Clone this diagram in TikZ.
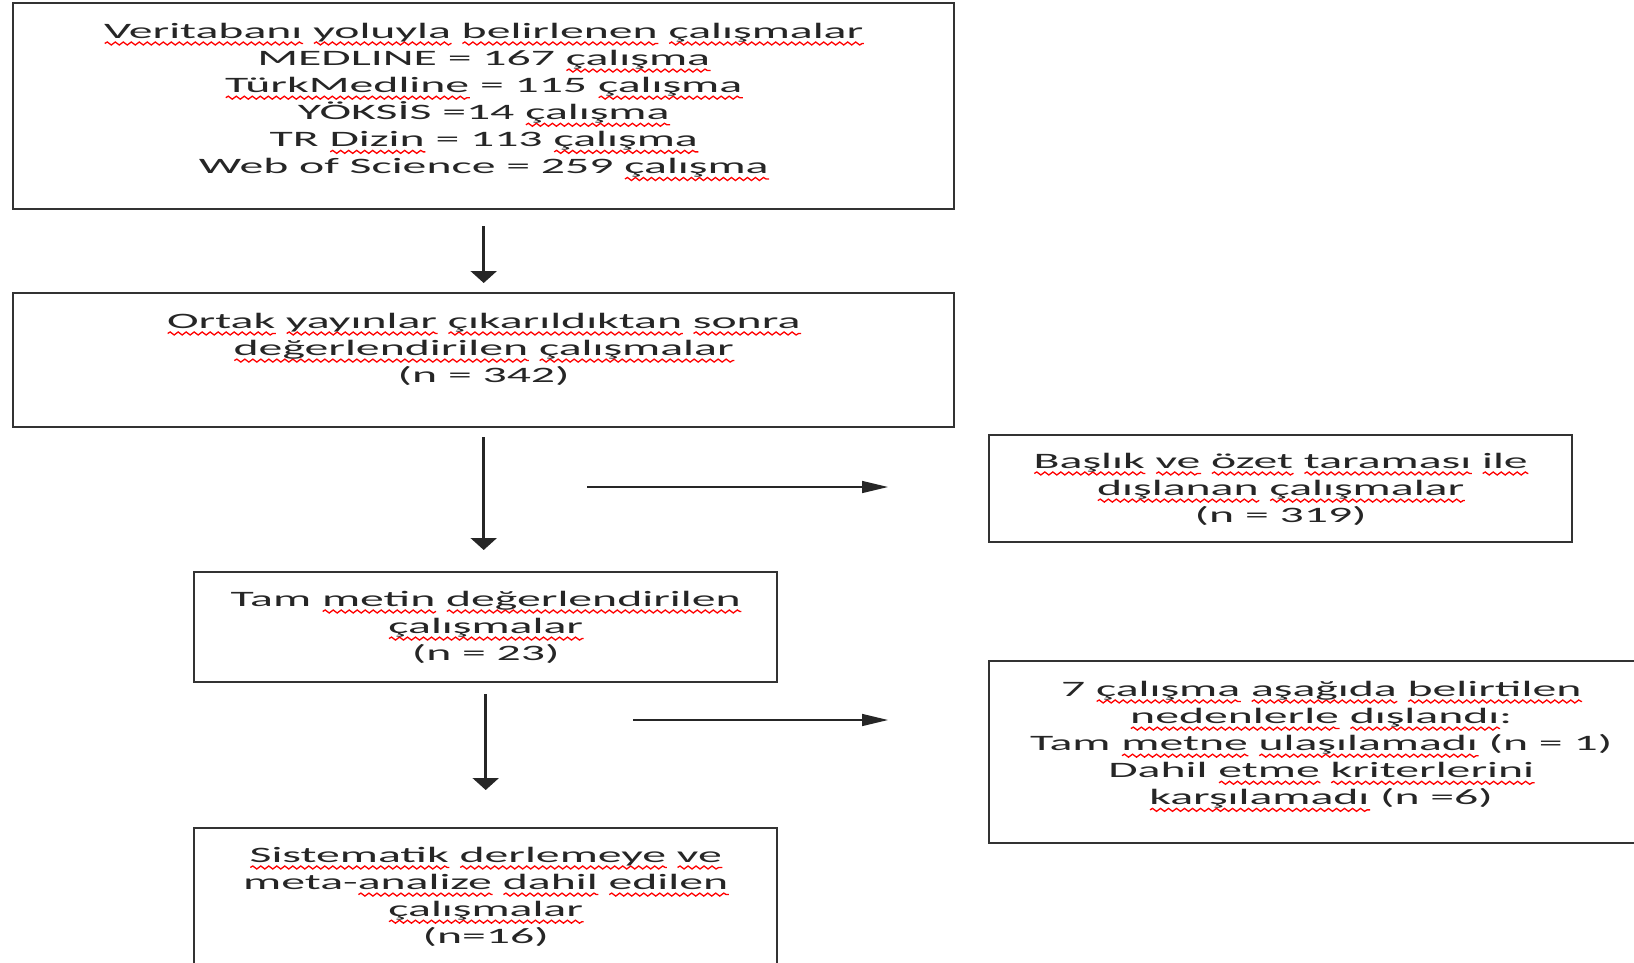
\documentclass[tikz,border=0pt]{standalone}
\usepackage{fontspec}
\setmainfont{Carlito}[FakeStretch=2.17]
\usepackage{xcolor}
\usepackage{tikz}
\usetikzlibrary{arrows.meta, positioning, decorations.pathmorphing}

% red wavy underline of the spell checker
\newlength\sqw
\newcommand\sq[1]{\settowidth\sqw{#1}\rlap{\tikz[baseline=0pt, x=1pt, y=1pt]
  \draw[red, line width=1.3pt, decorate, decoration={snake, amplitude=1.5pt, segment length=8pt}]
  (0pt,-5pt) -- (\sqw,-5pt);}#1}

\begin{document}
\begin{tikzpicture}[
  x=1pt, y=-1pt,
  box/.style={draw=black!80, line width=2.4pt, inner sep=0pt, anchor=north west},
  txt/.style={align=center, inner sep=0pt, text=black!85, font=\fontsize{22}{27.1}\selectfont},
  varr/.style={-{Triangle[length=12pt,width=26pt]}, line width=2.5pt, black!85},
  harr/.style={-{Triangle[length=26pt,width=12pt]}, line width=1.5pt, black!85},
]
  \useasboundingbox (0,0) rectangle (1634,962);
  \clip (0,0) rectangle (1634,962);

  \node[box, minimum width=941pt, minimum height=206pt] (db) at (12,2) {};
  \node[box, minimum width=941pt, minimum height=134pt] (dup) at (12,292) {};
  \node[box, minimum width=583pt, minimum height=107pt] (scr) at (988,434) {};
  \node[box, minimum width=583pt, minimum height=110pt] (full) at (193,571) {};
  \node[box, minimum width=664pt, minimum height=182pt] (excl) at (988,660) {};
  \node[box, minimum width=583pt, minimum height=160pt] (incl) at (193,827) {};

  \node[txt, below=21pt of db.north] {\sq{Veritabanı} \sq{yoluyla} \sq{belirlenen} \sq{çalışmalar}\\
    MEDLINE = 167 \sq{çalışma}\\
    \sq{TürkMedline} = 115 \sq{çalışma}\\
    YÖKSİS =14 \sq{çalışma}\\
    TR \sq{Dizin} = 113 \sq{çalışma}\\
    Web of Science = 259 \sq{çalışma}};
  \node[txt, below=21pt of dup.north] {\sq{Ortak} \sq{yayınlar} \sq{çıkarıldıktan} \sq{sonra}\\
    \sq{değerlendirilen} \sq{çalışmalar}\\
    (n = 342)};
  \node[txt, below=19pt of scr.north] {\sq{Başlık} \sq{ve} \sq{özet} \sq{taraması} \sq{ile}\\
    \sq{dışlanan} \sq{çalışmalar}\\
    (n = 319)};
  \node[txt, below=20pt of full.north] {Tam \sq{metin} \sq{değerlendirilen}\\
    \sq{çalışmalar}\\
    (n = 23)};
  \node[txt, below=21pt of excl.north] {7 \sq{çalışma} \sq{aşağıda} \sq{belirtilen}\\
    \sq{nedenlerle} \sq{dışlandı}:\\
    Tam \sq{metne} \sq{ulaşılamadı} (n = 1)\\
    Dahil \sq{etme} \sq{kriterlerini}\\
    \sq{karşılamadı} (n =6)};
  \node[txt, below=20pt of incl.north] {\sq{Sistematik} \sq{derlemeye} \sq{ve}\\
    meta-\sq{analize} \sq{dahil} \sq{edilen}\\
    \sq{çalışmalar}\\
    (n=16)};

  % arrows
  \draw[varr, shorten <=16pt, shorten >=9pt] (db.south) -- (db.south |- dup.north);
  \draw[varr, shorten <=9pt, shorten >=21pt] (dup.south) -- (dup.south |- full.north);
  \draw[varr, shorten <=11pt, shorten >=37pt] (full.south) -- (full.south |- incl.north);

  \coordinate (h1) at (587,487);
  \coordinate (h2) at (633,720);
  \draw[harr, shorten >=100pt] (h1) -- (h1 -| scr.west);
  \draw[harr, shorten >=100pt] (h2) -- (h2 -| excl.west);
\end{tikzpicture}
\end{document}
